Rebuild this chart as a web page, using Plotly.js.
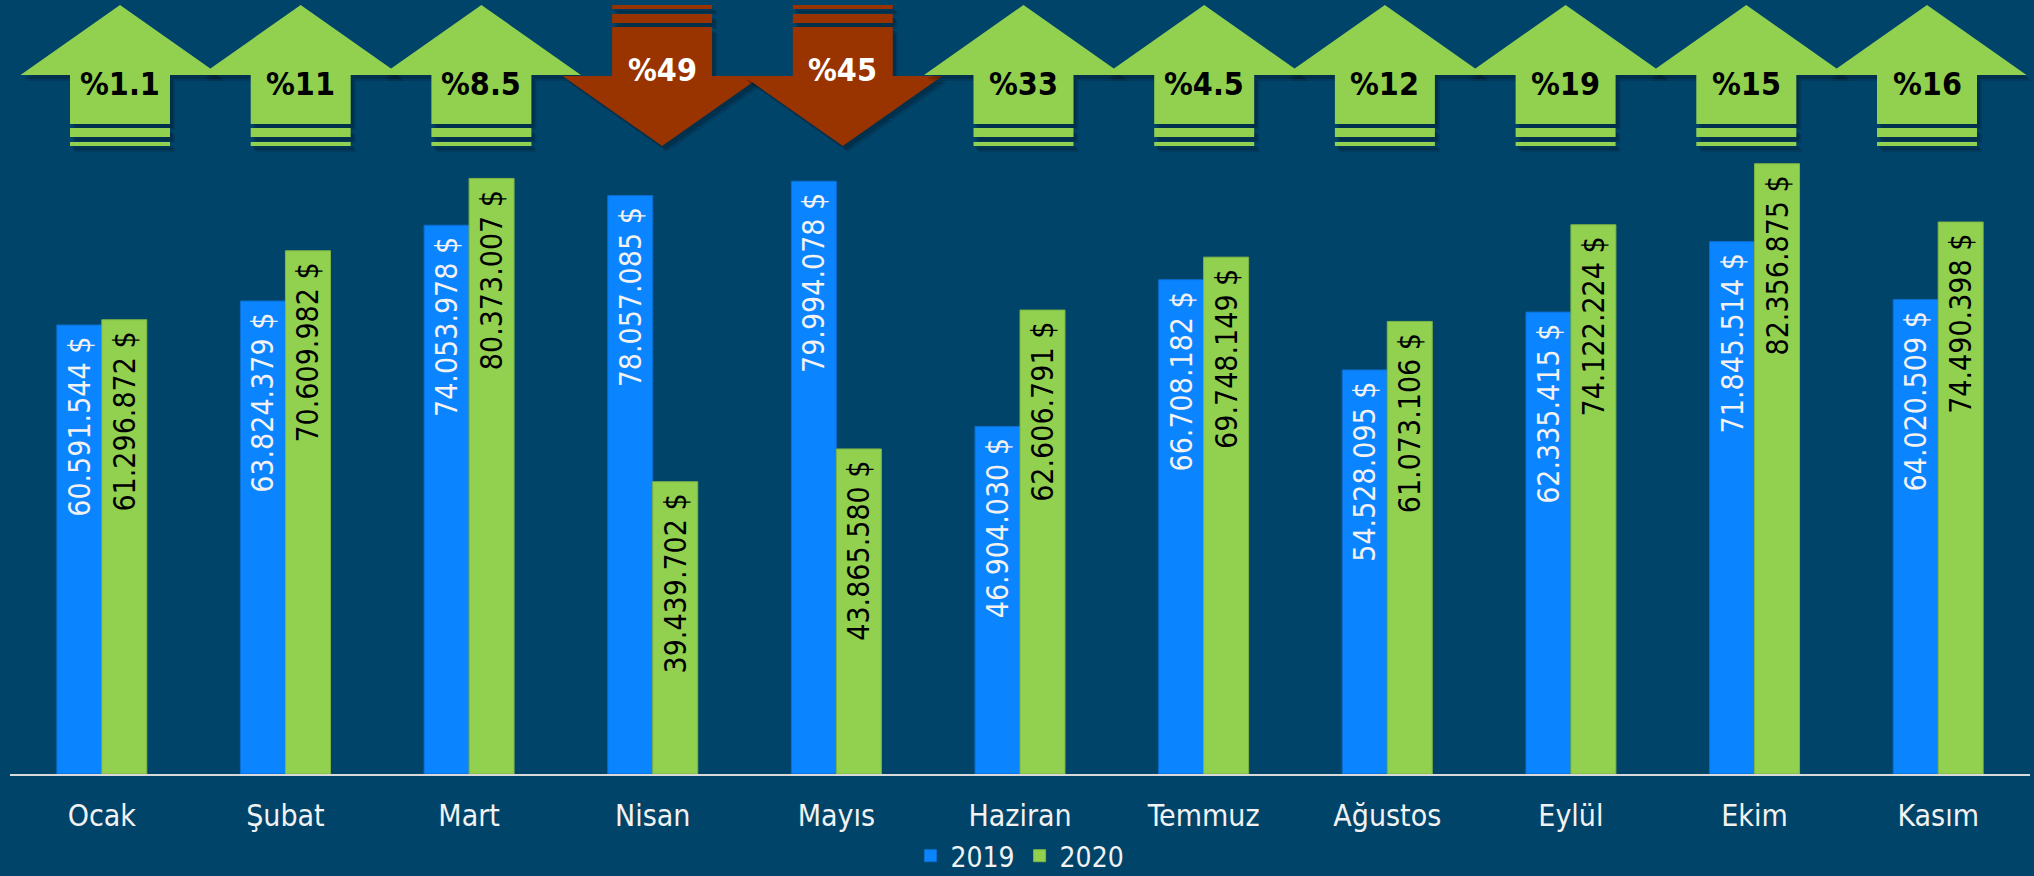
<!DOCTYPE html>
<html>
<head>
<meta charset="utf-8">
<script src="https://cdn.plot.ly/plotly-3.0.1.min.js"></script>
<style>
  html, body { margin: 0; padding: 0; background: #00446a; }
  #chart { width: 2034px; height: 876px; }
</style>
</head>
<body>
<div id="chart"></div>
<script>
// monthly export values (USD)
var months = ["Ocak", "Şubat", "Mart", "Nisan", "Mayıs", "Haziran", "Temmuz", "Ağustos", "Eylül", "Ekim", "Kasım"];
var exports2019 = [60591544, 63824379, 74053978, 78057085, 79994078, 46904030, 66708182, 54528095, 62335415, 71845514, 64020509];
var exports2020 = [61296872, 70609982, 80373007, 39439702, 43865580, 62606791, 69748149, 61073106, 74122224, 82356875, 74490398];
var changeLabels = ["%1.1", "%11", "%8.5", "%49", "%45", "%33", "%4.5", "%12", "%19", "%15", "%16"];

var FONT = "Liberation Sans Narrow, Arial Narrow, DejaVu Sans Condensed, sans-serif";
var BG = "#00446a";
var W = 2034, H = 876;
var M = { l: 10, r: 4, t: 0, b: 102, autoexpand: false };
var PW = W - M.l - M.r;
var PH = H - M.t - M.b;

// pixel -> paper helpers for the arrow shapes
function px2x(px) { return (px - M.l) / PW; }
function py2y(py) { return (M.t + PH - py) / PH; }

function pathFrom(pts, dx, dy) {
  return pts.map(function(p, i) {
    return (i == 0 ? "M" : "L") + px2x(p[0] + dx).toFixed(5) + "," + py2y(p[1] + dy).toFixed(5);
  }).join(" ") + " Z";
}

// arrow geometry in pixels, up arrow; down arrow is mirrored around y = 75.5
function arrowParts(cx, up) {
  var f = up ? function(y) { return y; } : function(y) { return 151 - y; };
  var body = [
    [cx, f(5)], [cx + 99.5, f(75)], [cx + 50, f(75)], [cx + 50, f(124)],
    [cx - 50, f(124)], [cx - 50, f(75)], [cx - 99.5, f(75)]
  ];
  var s1 = [[cx - 50, f(128)], [cx + 50, f(128)], [cx + 50, f(137)], [cx - 50, f(137)]];
  var s2 = [[cx - 50, f(142)], [cx + 50, f(142)], [cx + 50, f(146)], [cx - 50, f(146)]];
  return [body, s1, s2];
}

var shapes = [];
var annotations = [];
for (var i = 0; i < months.length; i++) {
  var up = exports2020[i] >= exports2019[i];
  var cx = 120 + 180.7 * i;
  var color = up ? "#92d050" : "#993300";
  var parts = arrowParts(cx, up);
  parts.forEach(function(pts) {
    shapes.push({ type: "path", xref: "paper", yref: "paper", path: pathFrom(pts, 5, 6),
      fillcolor: "rgba(0,0,0,0.12)", line: { width: 0 } });
    shapes.push({ type: "path", xref: "paper", yref: "paper", path: pathFrom(pts, 3, 4),
      fillcolor: "rgba(0,0,0,0.18)", line: { width: 0 } });
  });
  parts.forEach(function(pts) {
    shapes.push({ type: "path", xref: "paper", yref: "paper", path: pathFrom(pts, 0, 0),
      fillcolor: color, line: { width: 0 } });
  });
  annotations.push({
    xref: "paper", yref: "paper",
    x: px2x(cx), y: py2y(up ? 84 : 70),
    xanchor: "center", yanchor: "middle",
    text: changeLabels[i], showarrow: false,
    font: { family: FONT, size: 32, weight: "bold", color: up ? "#000000" : "#ffffff" }
  });
}

var trace2019 = {
  type: "bar", name: "2019", x: months, y: exports2019,
  marker: { color: "#0a84ff", line: { color: "#0a6fd0", width: 1 } },
  texttemplate: "%{y:,.0f} $\u00a0", textposition: "inside", insidetextanchor: "end",
  textangle: -90, constraintext: "none",
  textfont: { family: FONT, size: 30, color: "#f2f2f2" }
};
var trace2020 = {
  type: "bar", name: "2020", x: months, y: exports2020,
  marker: { color: "#92d050", line: { color: "#7fb543", width: 1 } },
  texttemplate: "%{y:,.0f} $\u00a0", textposition: "inside", insidetextanchor: "end",
  textangle: -90, constraintext: "none",
  textfont: { family: FONT, size: 30, color: "#000000" }
};

var layout = {
  width: W, height: H,
  margin: M,
  paper_bgcolor: BG, plot_bgcolor: BG,
  separators: ",.",
  barmode: "group", bargap: 0.51, bargroupgap: 0,
  hovermode: false,
  xaxis: {
    showline: true, linecolor: "#d9d9d9", linewidth: 2,
    showgrid: false, zeroline: false, ticks: "", ticklabelstandoff: 14,
    tickfont: { family: FONT, size: 30, color: "#f2f2f2" }
  },
  yaxis: { range: [0, 104.45e6], visible: false, showgrid: false, zeroline: false },
  showlegend: true,
  legend: {
    orientation: "h", x: 0.5, xanchor: "center", y: py2y(856), yanchor: "middle",
    font: { family: FONT, size: 28, color: "#f2f2f2" }, bgcolor: "rgba(0,0,0,0)"
  },
  shapes: shapes,
  annotations: annotations
};

Plotly.newPlot("chart", [trace2019, trace2020], layout, { displayModeBar: false, staticPlot: true });
</script>
</body>
</html>
